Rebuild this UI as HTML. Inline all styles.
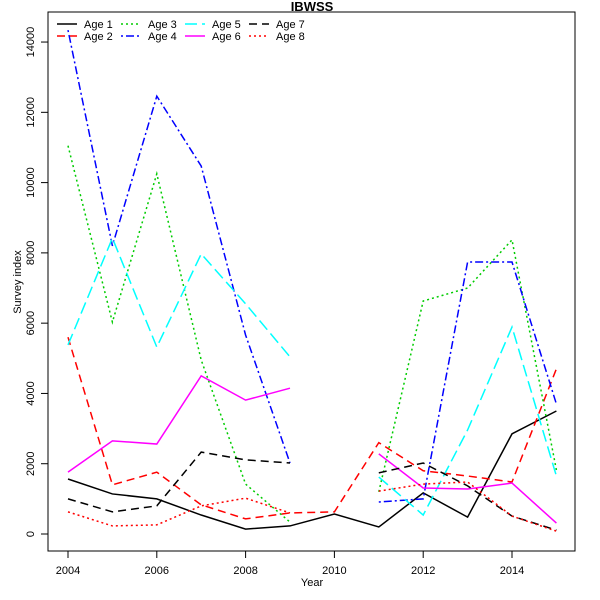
<!DOCTYPE html>
<html><head><meta charset="utf-8"><style>body{margin:0;background:#fff}svg{display:block;font-family:"Liberation Sans",sans-serif}</style></head>
<body>
<svg id="c" width="600" height="600"></svg>
<script>
const years=[2004,2005,2006,2007,2008,2009,2010,2011,2012,2013,2014,2015];
const age1=[1565,1140,1000,540,140,230,570,200,1170,480,2850,3500];
const age2=[5600,1400,1760,830,430,600,630,2600,1800,1650,1480,4700];
const age3=[11050,6030,10250,4950,1420,340,null,1200,6630,7000,8370,1820];
const age4=[14340,8200,12460,10470,5660,2020,null,910,1000,7740,7740,3700];
const age5=[5380,8420,5320,7970,6550,5040,null,1620,540,2960,5890,1650];
const age6=[1760,2650,2560,4500,3810,4150,null,2280,1310,1280,1450,310];
const age7=[1000,630,800,2330,2110,2020,null,1740,2020,1370,510,110];
const age8=[630,230,260,800,1020,600,null,1220,1420,1480,510,80];
const xTicks=[2004,2006,2008,2010,2012,2014];
const yTicks=[0,2000,4000,6000,8000,10000,12000,14000];
const series=[
 {n:"Age 1",d:age1,c:"#000",da:""},
 {n:"Age 2",d:age2,c:"#f00",da:"8,5"},
 {n:"Age 3",d:age3,c:"#0c0",da:"2,3"},
 {n:"Age 4",d:age4,c:"#00f",da:"2,3,8,3"},
 {n:"Age 5",d:age5,c:"#0ff",da:"12,5"},
 {n:"Age 6",d:age6,c:"#f0f",da:""},
 {n:"Age 7",d:age7,c:"#000",da:"8,5"},
 {n:"Age 8",d:age8,c:"#f00",da:"2,3"}];
const X=v=>68+(v-2004)*44.4, Y=v=>534-v*0.03514;
const s=document.getElementById('c'),NS="http://www.w3.org/2000/svg";
function mk(t,a,p){const e=document.createElementNS(NS,t);for(const k in a)e.setAttribute(k,a[k]);(p||s).appendChild(e);return e;}
const box=mk('rect',{x:48,y:12,width:527,height:539,fill:'none',stroke:'#000'});


const tt=mk('text',{x:312,y:11,'text-anchor':'middle','font-size':13,'font-weight':'bold'});tt.textContent='IBWSS';


xTicks.forEach(v=>{mk('line',{x1:X(v),x2:X(v),y1:551,y2:558,stroke:'#000'});const t=mk('text',{x:X(v),y:574,'text-anchor':'middle','font-size':11});t.textContent=v;

});
yTicks.forEach(v=>{mk('line',{x1:41,x2:48,y1:Y(v),y2:Y(v),stroke:'#000'});const t=mk('text',{x:34,y:Y(v),'text-anchor':'middle','font-size':11,transform:`rotate(-90 34 ${Y(v)})`});t.textContent=v;

});
const xl=mk('text',{x:312,y:586,'text-anchor':'middle','font-size':11});xl.textContent='Year';


const yl=mk('text',{x:21,y:282,'text-anchor':'middle','font-size':11,transform:'rotate(-90 21 282)'});yl.textContent='Survey index';


series.forEach((se,i)=>{
 let segs=[],cur=[];
 se.d.forEach((v,j)=>{if(v==null){if(cur.length)segs.push(cur);cur=[];}else cur.push(X(years[j])+','+Y(v));});
 if(cur.length)segs.push(cur);
 segs.forEach(sg=>{const p=mk('polyline',{points:sg.join(' '),fill:'none',stroke:se.c,'stroke-width':1.5,'stroke-dasharray':se.da});
 
 });
 const col=Math.floor(i/2),row=i%2,lx=57+col*64,ly=24+row*12;
 const g=mk('g',{});
 
 
 mk('line',{x1:lx,x2:lx+20,y1:ly,y2:ly,stroke:se.c,'stroke-width':1.5,'stroke-dasharray':se.da},g);
 const t=mk('text',{x:lx+27,y:ly+4,'font-size':11},g);t.textContent=se.n;
});
</script>
</body></html>
